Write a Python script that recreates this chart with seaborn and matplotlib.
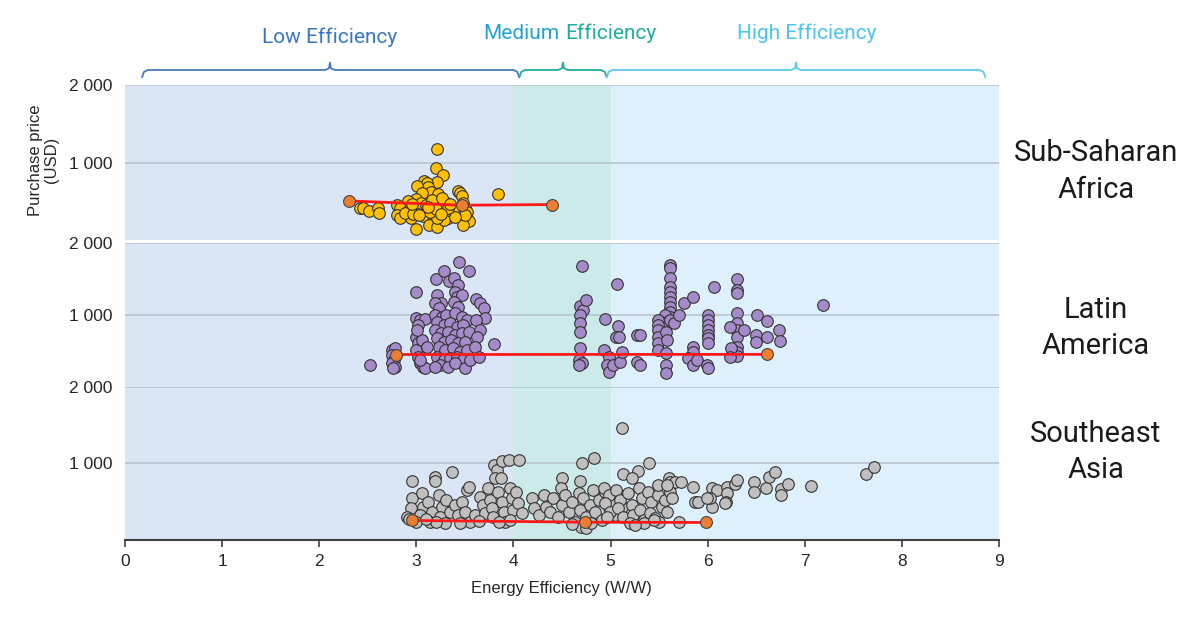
import matplotlib.pyplot as plt
import numpy as np
import pandas as pd
import seaborn as sns

sns.set_theme(style="white")
# fonts after set_theme so they are not reset
plt.rcParams['font.family'] = ['Liberation Sans', 'DejaVu Sans']

# ---------------- data ----------------
regions = ['Sub-Saharan\nAfrica', 'Latin\nAmerica', 'Southeast\nAsia']
band_names = ['Low', 'Medium', 'High']
band_edges = [0, 4, 5, 9]
price_ticks = [1000, 2000]
price_tick_labels = ['1 000', '2 000']
eff_ticks = [0, 1, 2, 3, 4, 5, 6, 7, 8, 9]

# Sub-Saharan Africa
ssa_eff = [3.21, 3.20, 3.27, 3.21, 3.08, 3.11, 3.12, 3.01, 3.84, 3.43,
           3.45, 3.47, 3.15, 3.22, 3.06, 3.00, 2.91, 2.42, 2.45, 2.51,
           2.61, 2.62, 2.80, 2.83, 2.80, 2.83, 2.94, 2.92, 2.88, 3.00,
           2.99, 3.04, 3.09, 3.14, 3.19, 3.24, 3.30, 3.31, 3.28, 3.23,
           3.18, 3.12, 3.07, 3.02, 2.97, 3.13, 3.21, 3.33, 3.36, 3.28,
           3.48, 3.50, 3.52, 3.54, 3.48, 3.50, 3.38, 3.40, 3.33, 3.21,
           3.14, 3.05, 3.10, 3.16, 3.26, 3.35, 3.20, 3.25, 3.12, 3.03,
           2.96]
ssa_price = [1170, 933, 835, 752, 765, 732, 688, 700, 597, 632,
             602, 568, 623, 594, 611, 525, 503, 409, 417, 374,
             409, 344, 452, 409, 323, 280, 280, 387, 344, 146,
             430, 409, 387, 430, 452, 474, 494, 430, 365, 344,
             323, 301, 310, 365, 335, 194, 172, 280, 323, 258,
             474, 409, 365, 249, 194, 323, 387, 301, 409, 280,
             365, 480, 450, 520, 540, 470, 400, 330, 420, 320,
             460]
ssa_trend_eff = [2.31, 3.47, 4.40]
ssa_trend_price = [504, 449, 458]

# Latin America
la_eff = [2.52, 2.75, 2.78, 2.75, 2.77, 2.75, 2.78, 2.76,
          3.00, 3.00, 3.04, 3.09, 3.02, 3.00, 3.02, 3.06, 3.00, 3.02, 3.04, 3.07, 3.09, 3.06, 3.11, 3.01, 3.04,
          3.20, 3.28, 3.34, 3.44, 3.54, 3.39, 3.43, 3.40, 3.42, 3.47, 3.39, 3.43, 3.21, 3.25, 3.19, 3.23,
          3.19, 3.26, 3.31, 3.40, 3.47, 3.52, 3.21, 3.28, 3.35, 3.42, 3.48, 3.19, 3.25, 3.33, 3.40, 3.47, 3.54, 3.21, 3.28,
          3.36, 3.43, 3.50, 3.23, 3.30, 3.38, 3.45, 3.52, 3.21, 3.28, 3.35, 3.42, 3.48, 3.24, 3.33, 3.40, 3.50, 3.55, 3.19,
          3.61, 3.66, 3.70, 3.71, 3.61, 3.66, 3.62, 3.60, 3.64, 3.80,
          4.71, 4.69, 4.72, 4.75, 4.69, 4.69, 4.69, 4.69, 4.68, 4.71, 4.68, 4.94, 5.07,
          4.93, 4.98, 4.96, 4.98, 5.03, 5.10, 5.12, 5.08, 5.06, 5.09, 5.27, 5.30, 5.27, 5.30,
          5.61, 5.61, 5.61, 5.61, 5.61, 5.61, 5.61, 5.61, 5.61, 5.61, 5.61, 5.56, 5.58, 5.61, 5.65, 5.70,
          5.49, 5.49, 5.49, 5.49, 5.49, 5.49, 5.57, 5.58, 5.57, 5.57, 5.57,
          5.76, 5.85, 6.06, 5.85, 5.85, 5.80, 5.85, 5.89,
          6.00, 6.00, 6.00, 6.00, 6.00, 6.00, 6.00, 5.99, 6.00,
          6.30, 6.30, 6.30, 6.30, 6.30, 6.30, 6.30, 6.30, 6.30, 6.30,
          6.23, 6.24, 6.23, 6.37, 6.51, 6.50, 6.50, 6.61, 6.61, 6.73, 6.74, 7.19]
la_price = [306, 514, 537, 444, 375, 329, 282, 260,
            1324, 954, 931, 940, 861, 699, 607, 560, 514, 421, 329, 282, 260, 653, 560, 792, 375,
            1500, 1615, 1476, 1740, 1615, 1510, 1417, 1324, 1254, 1278, 1185, 1115, 1278, 1171, 1162, 1093,
            1000, 976, 1000, 1023, 976, 931, 907, 861, 885, 838, 861, 792, 746, 768, 722, 746, 768, 676, 629,
            653, 607, 629, 560, 514, 537, 490, 514, 421, 375, 398, 421, 375, 306, 282, 329, 260, 375, 282,
            1218, 1171, 1093, 954, 931, 792, 699, 560, 421, 593,
            1681, 1125, 1069, 1208, 1000, 893, 768, 537, 375, 338, 306, 940, 1431,
            514, 421, 306, 213, 306, 351, 490, 847, 690, 690, 722, 722, 351, 306,
            1694, 1648, 1509, 1393, 1324, 1254, 1185, 1115, 1046, 976, 907, 1000, 907, 931, 885, 1000,
            931, 861, 792, 699, 607, 514, 768, 653, 468, 306, 190,
            1171, 1254, 1385, 560, 490, 398, 306, 375,
            1000, 931, 861, 792, 722, 676, 607, 306, 260,
            1496, 1347, 1301, 1032, 885, 792, 699, 560, 490, 431,
            838, 537, 421, 792, 1000, 722, 629, 921, 690, 792, 643, 1139]
la_trend_eff = [2.79, 6.61]
la_trend_price = [451, 453]

# Southeast Asia
sea_eff = [2.95, 3.19, 3.19, 3.37, 3.80, 3.83, 3.81, 3.87, 3.88, 3.95, 4.06, 4.71, 4.83, 4.50, 4.49, 4.69,
           2.95, 2.94, 2.90, 3.06, 3.07, 3.04, 3.12, 3.16, 3.14, 3.23,
           3.26, 3.24, 3.31, 3.35, 3.30, 3.40, 3.43, 3.47, 3.50, 3.52,
           3.54, 3.55, 3.60, 3.66, 3.69, 3.71, 3.74, 3.76, 3.78, 3.79,
           3.84, 3.88, 3.90, 3.91, 3.96, 3.98, 4.00, 4.03, 4.05, 4.09,
           3.96, 4.19, 4.21, 4.26, 4.31, 4.33, 4.38, 4.41, 4.46, 4.50,
           4.53, 4.57, 4.60, 4.63, 4.67, 4.69, 4.72, 4.75, 4.79, 4.82,
           4.84, 4.88, 4.91, 4.94, 4.98, 5.01, 5.05, 5.08, 5.12, 4.72,
           5.40, 5.13, 5.28, 5.22, 5.60, 5.61, 5.66, 5.73, 5.85, 5.87, 5.90, 6.04,
           6.10, 6.04, 6.02, 5.99, 6.20, 6.20, 6.19, 6.18, 6.28, 6.30, 6.48, 6.48,
           6.60, 6.63, 6.69, 6.75, 6.75, 6.83, 7.06, 7.63, 7.71, 5.12,
           4.93, 4.98, 4.94, 4.99, 4.96, 5.06, 5.10, 5.08, 5.13, 5.18,
           5.22, 5.23, 5.20, 5.29, 5.32, 5.30, 5.34, 5.39, 5.42, 5.41,
           5.46, 5.49, 5.53, 5.56, 5.58, 5.61, 5.63, 5.49, 5.58, 5.34,
           3.00, 3.20, 3.45, 3.65, 3.85, 4.70, 4.75, 4.80, 5.25, 5.50,
           5.70, 5.45, 4.60, 3.10, 2.92]
sea_price = [771, 828, 771, 893, 980, 915, 806, 806, 1033, 1041, 1041, 1002, 1068, 806, 675, 771,
             545, 414, 305, 610, 435, 327, 501, 370, 239, 588,
             435, 305, 523, 370, 218, 458, 327, 501, 370, 654,
             697, 239, 327, 566, 458, 349, 676, 523, 414, 305,
             632, 501, 370, 239, 676, 545, 392, 632, 480, 349,
             261, 545, 414, 327, 588, 435, 370, 545, 305, 458,
             588, 370, 501, 239, 610, 392, 545, 305, 458, 654,
             370, 523, 261, 632, 414, 501, 327, 588, 435, 196,
             1002, 858, 906, 806, 806, 762, 762, 754, 697, 501, 493, 676,
             654, 435, 545, 545, 697, 610, 501, 480, 728, 784, 754, 632,
             684, 828, 885, 667, 588, 728, 706, 858, 958, 1464,
             676, 588, 480, 370, 305, 654, 523, 414, 305, 610,
             458, 327, 218, 676, 545, 392, 261, 632, 501, 349,
             283, 588, 435, 523, 370, 632, 545, 719, 719, 218,
             240, 230, 220, 250, 230, 170, 160, 220, 200, 230,
             240, 260, 210, 280, 280]
sea_trend_eff = [2.95, 4.74, 5.98]
sea_trend_price = [255, 233, 229]

# ---------------- tables ----------------
points = [pd.DataFrame({'eff': ssa_eff, 'price': ssa_price}),
          pd.DataFrame({'eff': la_eff, 'price': la_price}),
          pd.DataFrame({'eff': sea_eff, 'price': sea_price})]
trends = [pd.DataFrame({'eff': ssa_trend_eff, 'price': ssa_trend_price}),
          pd.DataFrame({'eff': la_trend_eff, 'price': la_trend_price}),
          pd.DataFrame({'eff': sea_trend_eff, 'price': sea_trend_price})]

point_colors = ['#FFC000', '#A58BC9', '#C0C0C0']
band_colors = ['#DAE6F5', '#CDEAEA', '#DDF0FB']
label_y = [0.44, 0.41, 0.575]   # vertical position of the region names (axes fraction)

# ---------------- figure ----------------
fig = plt.figure(figsize=(12, 6.17), dpi=100)
rects = [[0.1042, 0.611, 0.7283, 0.2512],
         [0.1042, 0.3728, 0.7283, 0.2334],
         [0.1042, 0.1248, 0.7283, 0.2480]]
axes = [fig.add_axes(r) for r in rects]

for i, ax in enumerate(axes):
    ax.set_xlim(band_edges[0], band_edges[-1])
    ax.set_ylim(0, 2000)
    # efficiency bands
    for j in range(3):
        ax.axvspan(band_edges[j], band_edges[j + 1], color=band_colors[j], lw=0, zorder=0)
    for t in price_ticks:
        ax.axhline(t, color='#B6C2CE', lw=1.1, zorder=1)

    sns.scatterplot(data=points[i], x='eff', y='price', color=point_colors[i],
                    s=70, edgecolor='#333333', linewidth=0.8, ax=ax,
                    zorder=3, legend=False)
    sns.lineplot(data=trends[i], x='eff', y='price', color='#FF1A1A', linewidth=2,
                 marker='o', markersize=8.5, markerfacecolor='#ED7D31',
                 markeredgecolor='#444444', markeredgewidth=0.8, ax=ax, zorder=4)

    ax.set_yticks(price_ticks)
    ax.set_yticklabels(price_tick_labels)
    ax.tick_params(axis='y', length=0, pad=9, labelsize=12.5, labelcolor='#262626')
    ax.set_xlabel('')
    ax.set_ylabel('')
    for s in ax.spines.values():
        s.set_visible(False)
    ax.text(1.111, label_y[i], regions[i], transform=ax.transAxes, ha='center', va='center',
            fontsize=21, family=['Roboto', 'DejaVu Sans'], color='#1a1a1a', linespacing=1.4)

for ax in axes[:2]:
    ax.set_xticks([])

ax3 = axes[2]
ax3.set_xticks(eff_ticks)
ax3.tick_params(axis='x', direction='out', length=5, width=1.2, color='#404040',
                labelsize=12.5, labelcolor='#262626', pad=5, bottom=True)
ax3.spines['bottom'].set_visible(True)
ax3.spines['bottom'].set_color('#404040')
ax3.spines['bottom'].set_linewidth(1.5)

fig.text(0.468, 0.047, 'Energy Efficiency (W/W)', ha='center', va='center',
         fontsize=12, color='#262626')
fig.text(0.036, 0.741, 'Purchase price\n(USD)', ha='center', va='center',
         rotation=90, fontsize=12, color='#262626', linespacing=1.1)

# ---------------- brackets above the top panel ----------------
ax1 = axes[0]
tr = ax1.get_xaxis_transform()
brackets = [(0.175, 2.11, 4.06, '#4A78C2'),
            (4.06, 4.51, 4.96, '#1FAE9C'),
            (4.96, 6.91, 8.86, '#5CC8EC')]
for x0, xm, x1, c in brackets:
    bx = [x0, x0 + 0.02, x0 + 0.06, xm - 0.05, xm - 0.01, xm, xm + 0.01, xm + 0.05, x1 - 0.06, x1 - 0.02, x1]
    by = [1.05, 1.085, 1.097, 1.097, 1.108, 1.145, 1.108, 1.097, 1.097, 1.085, 1.05]
    ax1.plot(bx, by, color=c, lw=1.3, transform=tr, clip_on=False)

lab_font = ['Roboto', 'DejaVu Sans']
ax1.text(2.11, 1.31, 'Low Efficiency', transform=tr, ha='center', va='center',
         fontsize=15, color='#3A78C4', family=lab_font)
ax1.text(4.47, 1.335, 'Medium', transform=tr, ha='right', va='center',
         fontsize=15, color='#22A2D4', family=lab_font)
ax1.text(4.53, 1.335, 'Efficiency', transform=tr, ha='left', va='center',
         fontsize=15, color='#1FAE9C', family=lab_font)
ax1.text(7.02, 1.335, 'High Efficiency', transform=tr, ha='center', va='center',
         fontsize=15, color='#4CC4EE', family=lab_font)

fig.savefig('out.png', dpi=100)
